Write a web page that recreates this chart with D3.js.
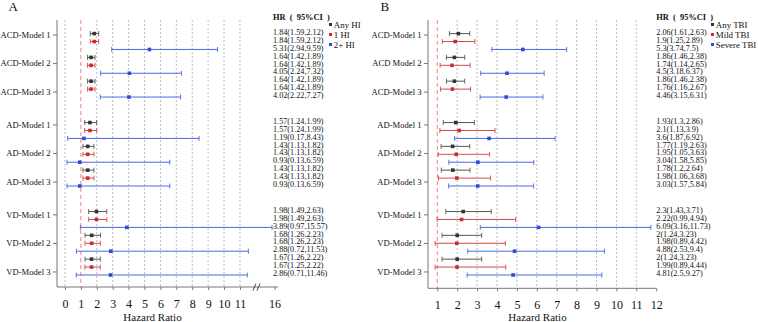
<!DOCTYPE html>
<html><head><meta charset="utf-8">
<script src="https://cdn.jsdelivr.net/npm/d3@7"></script>
<style>
body{margin:0;background:#fff}
svg{display:block;font-family:"Liberation Serif","Times New Roman",serif}
</style>
</head><body>
<svg id="c" width="758" height="322"></svg>
<script>
// ---------- DATA ----------
const labelsA = ["ACD-Model 1","ACD-Model 2","ACD-Model 3","AD-Model 1","AD-Model 2","AD-Model 3","VD-Model 1","VD-Model 2","VD-Model 3"];
const labelsB = ["ACD-Model 1","ACD Model 2","ACD-Model 3","AD-Model 1","AD-Model 2","AD-Model 3","VD-Model 1","VD-Model 2","VD-Model 3"];
const seriesA = ["Any HI","1 HI","2+ HI"];
const seriesB = ["Any TBI","Mild TBI","Severe TBI"];
// [HR, lower, upper]
const aAny  = [[1.84,1.59,2.12],[1.64,1.42,1.89],[1.64,1.42,1.89],[1.57,1.24,1.99],[1.43,1.13,1.82],[1.43,1.13,1.82],[1.98,1.49,2.63],[1.68,1.26,2.23],[1.67,1.26,2.22]];
const aOne  = [[1.84,1.59,2.12],[1.64,1.42,1.89],[1.64,1.42,1.89],[1.57,1.24,1.99],[1.43,1.13,1.82],[1.43,1.13,1.82],[1.98,1.49,2.63],[1.68,1.26,2.23],[1.67,1.25,2.22]];
const aTwo  = [[5.31,2.94,9.59],[4.05,2.24,7.32],[4.02,2.22,7.27],[1.19,0.17,8.43],[0.93,0.13,6.59],[0.93,0.13,6.59],[3.89,0.97,15.57],[2.88,0.72,11.53],[2.86,0.71,11.46]];
const bAny  = [[2.06,1.61,2.63],[1.86,1.46,2.38],[1.86,1.46,2.38],[1.93,1.3,2.86],[1.77,1.19,2.63],[1.78,1.2,2.64],[2.3,1.43,3.71],[2,1.24,3.23],[2,1.24,3.23]];
const bMild = [[1.9,1.25,2.89],[1.74,1.14,2.65],[1.76,1.16,2.67],[2.1,1.13,3.9],[1.95,1.05,3.63],[1.98,1.06,3.68],[2.22,0.99,4.94],[1.98,0.89,4.42],[1.99,0.89,4.44]];
const bSev  = [[5.3,3.74,7.5],[4.5,3.18,6.37],[4.46,3.15,6.31],[3.6,1.87,6.92],[3.04,1.58,5.85],[3.03,1.57,5.84],[6.09,3.16,11.73],[4.88,2.53,9.4],[4.81,2.5,9.27]];
const ticksA = [0,1,2,3,4,5,6,7,8,9,10,11,16];
const ticksB = [1,2,3,4,5,6,7,8,9,10,11,12];
const gridA = [0,2,3,4,5,6,7,8,9,10,11];
const gridB = [2,3,4,5,6,7,8,9,10,11];

// ---------- LAYOUT ----------
const colors = ["#333333","#cc2b2b","#2a4de0"];
const ciColors = ["#555555","#d24a4a","#4a68e6"];
const svg = d3.select("#c");
const yRow = d3.scaleLinear().domain([0,1]).range([33.6, 41.53]);
const rowSlot = (i, s) => Math.floor(i/3)*11.22 + (i%3)*3 + s;
const yLab = d3.scaleLinear().domain([0,1]).range([35, 63.55]);
const labSlot = i => Math.floor(i/3)*3.15 + (i%3);
const yTop = 20;

function panel(cfg){
  const g = svg.append("g");
  const x = cfg.x;
  const yBot = cfg.axisY;
  // grid
  g.selectAll(".grid").data(cfg.grid).join("line")
    .attr("x1", d=>x(d)).attr("x2", d=>x(d)).attr("y1", yTop).attr("y2", yBot)
    .attr("stroke","#b5b5b5").attr("stroke-width",0.9).attr("stroke-dasharray","2,2");
  g.append("line").attr("x1", x(1)).attr("x2", x(1)).attr("y1", yTop).attr("y2", yBot)
    .attr("stroke","#f08080").attr("stroke-width",1).attr("stroke-dasharray","4,3");
  // left axis
  g.append("line").attr("x1", cfg.axisX0).attr("x2", cfg.axisX0).attr("y1", yTop).attr("y2", yBot)
    .attr("stroke","#777");
  cfg.labels.forEach((lab,i)=>{
    const yy = yLab(labSlot(i));
    g.append("line").attr("x1", cfg.axisX0-4).attr("x2", cfg.axisX0).attr("y1", yy).attr("y2", yy).attr("stroke","#777");
    g.append("text").attr("x", cfg.axisX0-6.5).attr("y", yy).attr("dy","0.33em")
      .attr("text-anchor","end").attr("font-size","8.6px").attr("fill","#111").text(lab);
  });
  // bottom axis
  const ax = g.append("g").attr("transform",`translate(0,${yBot})`)
    .call(d3.axisBottom(x).tickValues(cfg.ticks).tickSize(3).tickSizeOuter(0).tickPadding(9).tickFormat(d3.format("d")));
  ax.select(".domain").remove();
  ax.selectAll(".tick line").attr("stroke","#777");
  ax.selectAll(".tick text").attr("font-size","12px").attr("fill","#111").attr("font-family","Liberation Serif");
  g.append("line").attr("x1", cfg.axisX0).attr("x2", cfg.axisX1).attr("y1", yBot).attr("y2", yBot).attr("stroke","#777");
  g.append("text").attr("x", cfg.titleX).attr("y", 320.5).attr("text-anchor","middle")
    .attr("font-size","11px").attr("fill","#111").text("Hazard Ratio");
  // series
  cfg.data.forEach((arr, s)=>{
    arr.forEach((d,i)=>{
      const yy = yRow(rowSlot(i,s));
      const lo = x(d[1]), hi = x(d[2]), c = x(d[0]);
      g.append("line").attr("x1",lo).attr("x2",hi).attr("y1",yy).attr("y2",yy).attr("stroke",ciColors[s]).attr("stroke-width",1);
      g.append("line").attr("x1",lo).attr("x2",lo).attr("y1",yy-2.5).attr("y2",yy+2.5).attr("stroke",ciColors[s]).attr("stroke-width",0.9);
      g.append("line").attr("x1",hi).attr("x2",hi).attr("y1",yy-2.5).attr("y2",yy+2.5).attr("stroke",ciColors[s]).attr("stroke-width",0.9);
      g.append("rect").attr("x",c-1.8).attr("y",yy-1.8).attr("width",3.6).attr("height",3.6).attr("fill",colors[s]);
      g.append("text").attr("x", cfg.textX).attr("y", yy+1.2).attr("font-size","8.2px").attr("fill","#111")
        .text(`${d[0]}(${d[1]},${d[2]})`);
    });
  });
  // header
  g.append("text").attr("x", cfg.textX).attr("y", 19.5).attr("font-size","8.4px").attr("font-weight","bold")
    .attr("fill","#111").attr("xml:space","preserve").text("HR\u2002(\u200295%CI\u2002)");
  // legend
  cfg.series.forEach((nm,s)=>{
    const yy = 24.5 + s*10;
    g.append("rect").attr("x", cfg.legX).attr("y", yy-1.5).attr("width",3).attr("height",3).attr("fill",colors[s]);
    g.append("text").attr("x", cfg.legX+4.8).attr("y", yy).attr("dy","0.35em").attr("font-size","8.9px").attr("fill","#111").text(nm);
  });
  // panel letter
  g.append("text").attr("x", cfg.letterX).attr("y", 11.3).attr("font-size","13px").attr("fill","#111").text(cfg.letter);
  return g;
}

const xA = d3.scaleLinear().domain([-0.5, 11.6, 16]).range([57, 249.5, 274.5]);
const gA = panel({x:xA, axisY:287, axisX0:57, axisX1:278, grid:gridA, ticks:ticksA, labels:labelsA,
  data:[aAny,aOne,aTwo], series:seriesA, textX:273, legX:329, titleX:152.5, letter:"A", letterX:8.5});
// axis break marks
[0,4].forEach(o=>{
  gA.append("line").attr("x1",253+o).attr("x2",256+o).attr("y1",290.5).attr("y2",283.5).attr("stroke","#333").attr("stroke-width",0.9);
});

const xB = d3.scaleLinear().domain([0.5, 12]).range([427.35, 656.2]);
panel({x:xB, axisY:288.3, axisX0:428, axisX1:656.5, grid:gridB, ticks:ticksB, labels:labelsB,
  data:[bAny,bMild,bSev], series:seriesB, textX:656.3, legX:711, titleX:537.5, letter:"B", letterX:380.5});
</script>
</body></html>
